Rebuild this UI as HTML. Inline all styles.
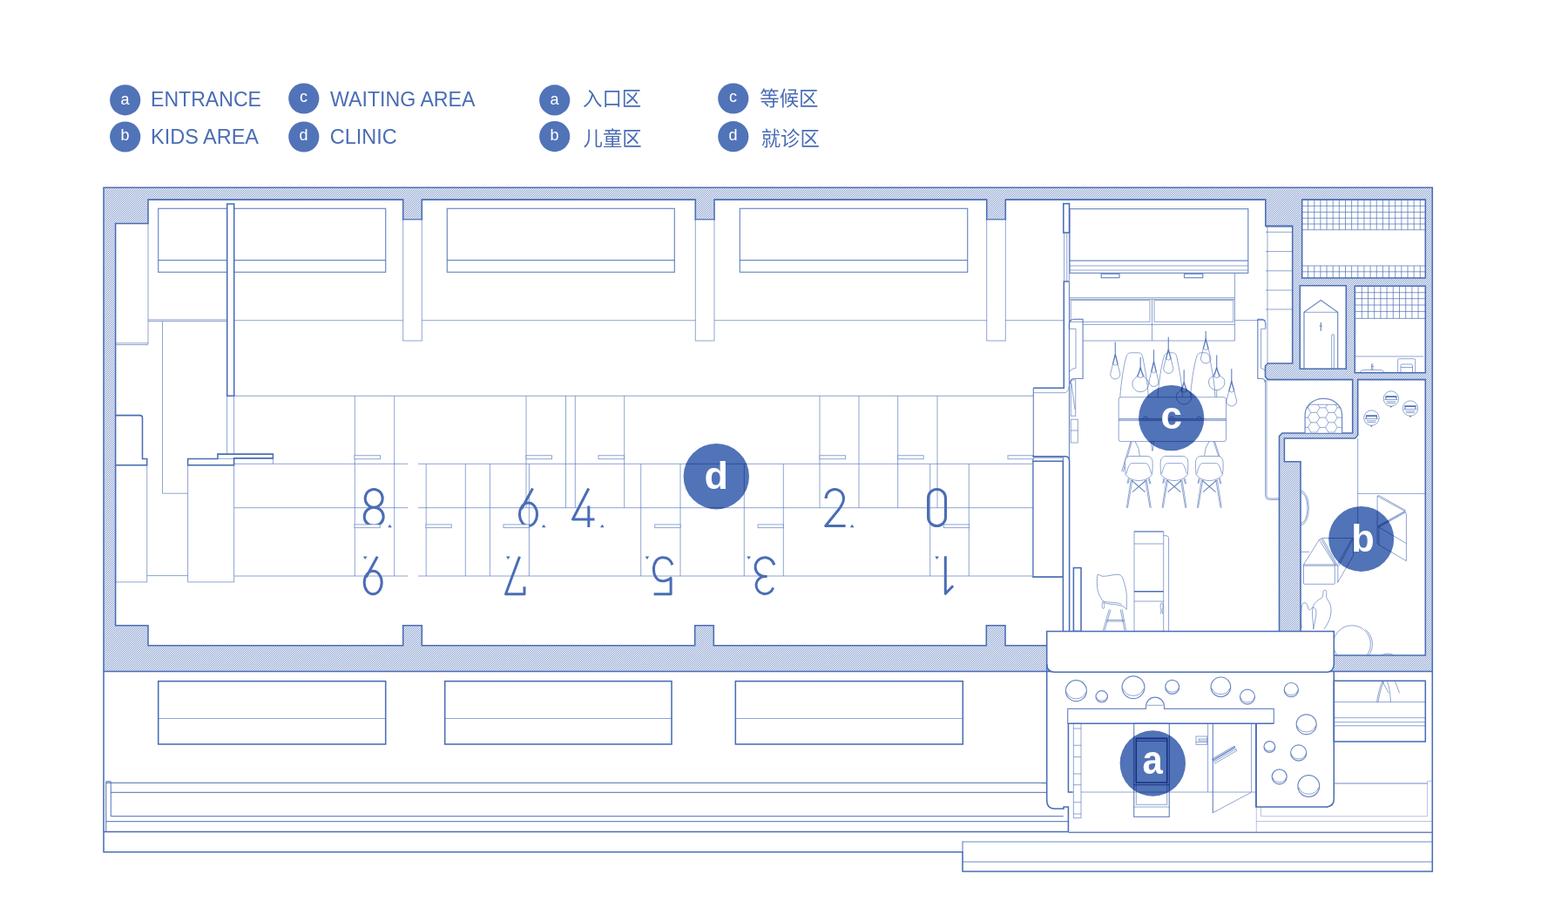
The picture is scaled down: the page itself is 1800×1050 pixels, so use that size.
<!DOCTYPE html>
<html lang="en"><head><meta charset="utf-8"><title>Clinic floor plan</title>
<style>
html,body{margin:0;padding:0;background:#fff}
body{width:1800px;height:1050px;overflow:hidden;font-family:"Liberation Sans",sans-serif}
svg{display:block}
svg{fill:none;stroke:#4a6db5;stroke-linecap:butt;stroke-linejoin:miter}
.k{stroke-width:1.55}
.m{stroke-width:1.2;stroke-opacity:.8}
.t{stroke-width:1;stroke-opacity:.62}
.g{stroke-width:1;stroke-opacity:.7}
.l{stroke-width:1;stroke-opacity:.4}
.n{stroke-width:1.5;stroke-opacity:.82}
.dg{stroke-width:3;stroke-linejoin:round}
.tf{fill:#4a6db5;stroke:none}
text{font-family:"Liberation Sans",sans-serif;stroke:none}
.bl{fill:#fff;font-weight:bold;text-anchor:middle}
.ll{fill:#fff;font-size:18px;text-anchor:middle}
.lt{fill:#4a6db5;font-size:24.2px}
.cj{fill:#4a6db5;font-size:22.4px;font-family:"Liberation Sans","Noto Sans CJK SC",sans-serif}
</style></head>
<body>
<svg width="1800" height="1050" viewBox="0 0 1800 1050">
<defs><pattern id="hatch" width="5" height="5" patternUnits="userSpaceOnUse"><g fill="#4a6db5" stroke="none" shape-rendering="crispEdges"><rect x="0" y="0" width="1" height="1" fill-opacity="0.36"/><rect x="1" y="0" width="1" height="1" fill-opacity="0.12"/><rect x="2" y="0" width="1" height="1" fill-opacity="0.63"/><rect x="3" y="0" width="1" height="1" fill-opacity="0.07"/><rect x="4" y="0" width="1" height="1" fill-opacity="0.46"/><rect x="0" y="1" width="1" height="1" fill-opacity="0.12"/><rect x="1" y="1" width="1" height="1" fill-opacity="0.63"/><rect x="2" y="1" width="1" height="1" fill-opacity="0.07"/><rect x="3" y="1" width="1" height="1" fill-opacity="0.46"/><rect x="4" y="1" width="1" height="1" fill-opacity="0.36"/><rect x="0" y="2" width="1" height="1" fill-opacity="0.63"/><rect x="1" y="2" width="1" height="1" fill-opacity="0.07"/><rect x="2" y="2" width="1" height="1" fill-opacity="0.46"/><rect x="3" y="2" width="1" height="1" fill-opacity="0.36"/><rect x="4" y="2" width="1" height="1" fill-opacity="0.12"/><rect x="0" y="3" width="1" height="1" fill-opacity="0.07"/><rect x="1" y="3" width="1" height="1" fill-opacity="0.46"/><rect x="2" y="3" width="1" height="1" fill-opacity="0.36"/><rect x="3" y="3" width="1" height="1" fill-opacity="0.12"/><rect x="4" y="3" width="1" height="1" fill-opacity="0.63"/><rect x="0" y="4" width="1" height="1" fill-opacity="0.46"/><rect x="1" y="4" width="1" height="1" fill-opacity="0.36"/><rect x="2" y="4" width="1" height="1" fill-opacity="0.12"/><rect x="3" y="4" width="1" height="1" fill-opacity="0.63"/><rect x="4" y="4" width="1" height="1" fill-opacity="0.07"/></g></pattern></defs>
<rect x="0" y="0" width="1800" height="1050" style="fill:#fff;stroke:none"/>
<path d="M119,215.3L1644.3,215.3L1644.3,770.5L119,770.5Z M170,229.1L462.7,229.1L462.7,252.1L484.3,252.1L484.3,229.1L798.3,229.1L798.3,252.1L820.0,252.1L820.0,229.1L1132.7,229.1L1132.7,252.1L1154.3,252.1L1154.3,229.1L1452.8,229.1L1452.8,259.3L1483.7,259.3L1483.7,417L1455.5,417L1452.5,420L1452.5,432.5L1455.5,435.6L1552.7,435.6L1552.7,497L1472,497L1468.5,500.5L1468.5,740.7L1154.0,740.7L1154.0,717.7L1132.3,717.7L1132.3,740.7L819.3,740.7L819.3,717.7L797.7,717.7L797.7,740.7L484.3,740.7L484.3,717.7L462.7,717.7L462.7,740.7L170,740.7L170,717.7L132.6,717.7L132.6,256.4L170,256.4Z M1558.7,435.6L1636.3,435.6L1636.3,752L1493,752L1493,529.7L1474.4,529.7L1474.4,503L1555.5,503L1558.7,499.5Z M1494.7,229.1L1636.3,229.1L1636.3,319L1494.7,319Z M1492.3,327.7L1545.3,327.7L1545.3,423.3L1492.3,423.3Z M1555.3,328.3L1636.3,328.3L1636.3,427.7L1555.3,427.7Z" fill="url(#hatch)" fill-rule="evenodd" stroke="none"/>
<path class="k" d="M119,215.3L1644.3,215.3L1644.3,770.5L119,770.5Z M170,229.1L462.7,229.1L462.7,252.1L484.3,252.1L484.3,229.1L798.3,229.1L798.3,252.1L820.0,252.1L820.0,229.1L1132.7,229.1L1132.7,252.1L1154.3,252.1L1154.3,229.1L1452.8,229.1L1452.8,259.3L1483.7,259.3L1483.7,417L1455.5,417L1452.5,420L1452.5,432.5L1455.5,435.6L1552.7,435.6L1552.7,497L1472,497L1468.5,500.5L1468.5,740.7L1154.0,740.7L1154.0,717.7L1132.3,717.7L1132.3,740.7L819.3,740.7L819.3,717.7L797.7,717.7L797.7,740.7L484.3,740.7L484.3,717.7L462.7,717.7L462.7,740.7L170,740.7L170,717.7L132.6,717.7L132.6,256.4L170,256.4Z M1558.7,435.6L1636.3,435.6L1636.3,752L1493,752L1493,529.7L1474.4,529.7L1474.4,503L1555.5,503L1558.7,499.5Z M1494.7,229.1L1636.3,229.1L1636.3,319L1494.7,319Z M1492.3,327.7L1545.3,327.7L1545.3,423.3L1492.3,423.3Z M1555.3,328.3L1636.3,328.3L1636.3,427.7L1555.3,427.7Z"/>
<rect class="m" x="181.7" y="239.3" width="261.0" height="73.0"/>
<path class="m" d="M181.7,298.7H442.7"/>
<rect class="m" x="513.3" y="239.3" width="261.0" height="73.0"/>
<path class="m" d="M513.3,298.7H774.3"/>
<rect class="m" x="849.3" y="239.3" width="261.4" height="73.0"/>
<path class="m" d="M849.3,298.7H1110.7"/>
<path class="t" d="M170,366.9H260.7"/>
<path class="t" d="M170,368.6H260.7"/>
<path class="t" d="M268.7,367.7H1220.8"/>
<rect class="t" x="462.7" y="252.1" width="21.6" height="138.9" fill="#fff"/>
<rect class="t" x="798.3" y="252.1" width="21.7" height="138.9" fill="#fff"/>
<rect class="t" x="1132.7" y="252.1" width="21.6" height="138.9" fill="#fff"/>
<path class="t" d="M170,256.4V395"/>
<path class="t" d="M132.6,393.8H170"/>
<path class="t" d="M132.6,395.6H170"/>
<path class="t" d="M186.5,368.6V566.2"/>
<path class="t" d="M186.5,566.2H215.6"/>
<rect class="k" x="260.7" y="234" width="8.0" height="220.3" fill="#fff"/>
<path class="t" d="M260.6,454.3V521"/>
<path class="t" d="M268.6,454.3V533"/>
<path class="t" d="M268.7,454.3H1186.7"/>
<path class="t" d="M407.3,454.3V661"/>
<path class="t" d="M452.7,454.3V661"/>
<path class="t" d="M604,454.3V582.7"/>
<path class="t" d="M649.5,454.3V582.7"/>
<path class="t" d="M660.3,454.3V582.7"/>
<path class="t" d="M716.7,454.3V582.7"/>
<path class="t" d="M941,454.3V582.7"/>
<path class="t" d="M986,454.3V582.7"/>
<path class="t" d="M1030.7,454.3V582.7"/>
<path class="t" d="M1076,454.3V582.7"/>
<path class="t" d="M489.2,532.3V661"/>
<path class="t" d="M534.3,532.3V661"/>
<path class="t" d="M562.4,532.3V661"/>
<path class="t" d="M607.4,532.3V661"/>
<path class="t" d="M735.7,532.3V661"/>
<path class="t" d="M781,532.3V661"/>
<path class="t" d="M854.3,532.3V661"/>
<path class="t" d="M899.3,532.3V661"/>
<path class="t" d="M1067.7,532.3V661"/>
<path class="t" d="M1112.3,532.3V661"/>
<path class="t" d="M268.6,532.3H468.3"/>
<path class="t" d="M480,532.3H1185.7"/>
<path class="t" d="M268.6,582.7H468.3"/>
<path class="t" d="M480,582.7H1185.7"/>
<path class="t" d="M268.6,661H468.3"/>
<path class="t" d="M480,661H1185.7"/>
<path class="k" d="M132.6,476.6H160.5Q163.5,476.6 163.5,479.6V526.4H168.7V533.7H132.6"/>
<rect class="t" x="132.6" y="533.7" width="36.1" height="134.2"/>
<path class="t" d="M168.7,660.6H215.6"/>
<rect class="t" x="215.6" y="533.7" width="53.0" height="134.2"/>
<path class="k" d="M215.6,526.4H249.9V521.1H313.4V525.7H268.6V533.7H215.6Z" fill="#fff"/>
<path class="t" d="M251,526.3H313.4"/>
<path class="t" d="M313.4,525.7V532.3"/>
<rect class="m" x="1185.7" y="525" width="34.7" height="137.3"/>
<path class="dg" transform="translate(418.20 561.50)" d="M11,0 A10,10.4 0 1 1 11,20.8 A10,10.4 0 1 1 11,0 Z M11,20.8 A11,10.6 0 1 1 11,42 A11,10.6 0 1 1 11,20.8 Z"/>
<path class="dg" transform="translate(596.50 561.50)" d="M15,-1 L2.2,22.5 M0,28.7 A10,13.3 0 1 1 20,28.7 A10,13.3 0 1 1 0,28.7 Z"/>
<path class="dg" transform="translate(657.50 561.50)" d="M18.3,-1 L0,34.5 H25 M18.3,19 V43.5"/>
<path class="dg" transform="translate(947.10 561.50)" d="M1,10.5 A10.2,10.5 0 0 1 21.4,10.5 C21.4,15.5 19,19 15.5,23.5 L0.6,42 H23.5"/>
<path class="dg" transform="translate(1065.50 561.50)" d="M0,10 A10,10 0 0 1 20,10 V32 A10,10 0 0 1 0,32 Z"/>
<path class="tf" d="M445.2,605.3L447.5,601.6999999999999L449.8,605.3Z"/>
<path class="tf" d="M621.9000000000001,605.3L624.2,601.6999999999999L626.5,605.3Z"/>
<path class="tf" d="M689.0,605.3L691.3,601.6999999999999L693.5999999999999,605.3Z"/>
<path class="tf" d="M975.9000000000001,605.3L978.2,601.6999999999999L980.5,605.3Z"/>
<path class="dg" transform="translate(418.20 639.80)" d="M15,-1 L2.2,22.5 M0,28.7 A10,13.3 0 1 1 20,28.7 A10,13.3 0 1 1 0,28.7 Z"/>
<g transform="rotate(180 591.25 660.80)"><path class="dg" transform="translate(580.50 639.80)" d="M0,8.5 V0 H21.5 L5.5,43"/></g>
<g transform="rotate(180 761.25 660.80)"><path class="dg" transform="translate(750.40 639.80)" d="M21.5,0 H2 V18.5 C4.5,16 8,15 11.3,15 C17.8,15 21.7,21 21.7,28.5 C21.7,36 17.8,42 11.2,42 C6,42 2,39 0.3,33.5"/></g>
<g transform="rotate(180 878.10 660.80)"><path class="dg" transform="translate(867.10 639.80)" d="M1.5,7.5 A10,10 0 1 1 11,20.3 H8.5 M11,20.3 A11,10.85 0 1 1 0.3,33.5"/></g>
<g transform="rotate(180 1089.70 660.80)"><path class="dg" transform="translate(1085.30 639.80)" d="M0,9.5 L8.8,0.5 V43.5"/></g>
<path class="tf" d="M416.9,638.4L419.2,642.0L421.5,638.4Z"/>
<path class="tf" d="M581.0,638.4L583.3,642.0L585.5999999999999,638.4Z"/>
<path class="tf" d="M740.6,638.4L742.9,642.0L745.1999999999999,638.4Z"/>
<path class="tf" d="M857.3000000000001,638.4L859.6,642.0L861.9,638.4Z"/>
<path class="tf" d="M1073.3,638.4L1075.6,642.0L1077.8999999999999,638.4Z"/>
<rect class="t" x="407" y="522.7" width="29.5" height="4.0" fill="#fff"/>
<rect class="t" x="604" y="522.7" width="29.5" height="4.0" fill="#fff"/>
<rect class="t" x="687" y="522.7" width="29.5" height="4.0" fill="#fff"/>
<rect class="t" x="941" y="522.7" width="29.5" height="4.0" fill="#fff"/>
<rect class="t" x="1030.7" y="522.7" width="29.5" height="4.0" fill="#fff"/>
<rect class="t" x="1157" y="522.7" width="29.5" height="4.0" fill="#fff"/>
<rect class="t" x="407" y="601.9" width="29.3" height="3.7" fill="#fff"/>
<rect class="t" x="489" y="601.9" width="29.3" height="3.7" fill="#fff"/>
<rect class="t" x="578" y="601.9" width="29.3" height="3.7" fill="#fff"/>
<rect class="t" x="751.7" y="601.9" width="29.3" height="3.7" fill="#fff"/>
<rect class="t" x="870" y="601.9" width="29.3" height="3.7" fill="#fff"/>
<rect class="t" x="1083.3" y="601.9" width="29.3" height="3.7" fill="#fff"/>
<rect class="k" x="1220.8" y="233.7" width="6.7" height="33.3" fill="#fff"/>
<path class="t" d="M1221.6,267V322.5"/>
<path class="t" d="M1224.8,267V322.5"/>
<path class="t" d="M1227.4,267V322.5"/>
<path class="k" d="M1227.3,322.9H1221.3V445.3H1186.3"/>
<path class="m" d="M1227.5,322.9V526"/>
<path class="t" d="M1227,443.5Q1227,450.7 1221,450.7H1186.3"/>
<path class="m" d="M1186.3,445.3V524"/>
<path class="k" d="M1185.3,523.8H1222.5Q1227.6,523.8 1227.6,529V724.4"/>
<path class="k" d="M1185.3,529.2H1220.4V724.4"/>
<path class="k" d="M1185.6,662H1220.4"/>
<path class="t" d="M1186.2,529.2V662"/>
<rect class="k" x="1232.4" y="651.6" width="8.6" height="72.8"/>
<rect class="t" x="1229.3" y="436" width="5.4" height="41.3"/>
<path class="t" d="M1230,440L1234,470"/>
<rect class="t" x="1229.3" y="481.3" width="8.0" height="26.7"/>
<path class="t" d="M1229.3,494H1237.3"/>
<rect class="m" x="1228" y="239.7" width="204.8" height="73.6"/>
<path class="m" d="M1228,299.2H1432.8"/>
<path class="t" d="M1228,305H1432.8"/>
<path class="t" d="M1228,310H1432.8"/>
<rect class="m" x="1264.2" y="314.3" width="20.8" height="4.4"/>
<rect class="m" x="1359.5" y="314.3" width="21.3" height="4.4"/>
<path class="t" d="M1417.5,313.3V391"/>
<path class="t" d="M1228,341.7H1417.5"/>
<path class="t" d="M1228,343.4H1417.5"/>
<rect class="t" x="1229.2" y="344.6" width="90.8" height="24.7"/>
<rect class="t" x="1325" y="344.6" width="90.8" height="24.7"/>
<path class="t" d="M1322.5,343.4V391"/>
<path class="t" d="M1417.5,367.6H1452.8"/>
<path class="t" d="M1243.1,372.4H1417.5"/>
<path class="t" d="M1243.1,391H1417.5"/>
<path class="m" d="M1227.4,377.4V372Q1227.6,366.3 1233,366.3H1243.1V434.5H1233Q1228.6,434.8 1228.4,440.5"/>
<path class="t" d="M1227.4,377.4H1235V422.6Q1229,423 1227.6,427"/>
<path class="m" d="M1452.8,377.4V372Q1452.6,366.3 1448.5,366.3H1443.8V434.5H1448.5Q1452,434.8 1452.4,439"/>
<path class="t" d="M1452.6,377.4H1447.6V422.6Q1451,423 1452.4,426"/>
<path class="t" d="M1469,573.4H1457.5Q1452.6,573.4 1452.6,568.5V435.6"/>
<path class="t" d="M1469,572H1457.5Q1454,572 1454,568.5V436"/>
<path class="t" d="M1455,259.4V417"/>
<path class="t" d="M1453,266.3H1483.7"/>
<path class="t" d="M1453,288.6H1483.7"/>
<path class="t" d="M1453,310.8H1483.7"/>
<path class="t" d="M1453,333H1483.7"/>
<path class="t" d="M1453,355H1483.7"/>
<path class="t" d="M1453,260.6H1483.7"/>
<path class="t" d="M1285.8,455.8C1286.8,440 1289.8,420 1292.8,410C1293.8,406 1295.8,404.8 1298.8,404.8H1306.3C1309.3,404.8 1310.8,406 1311.8,410C1314.8,425 1317.8,440 1318.3,455.8"/>
<path class="t" d="M1329,455.8C1330,440 1333,420 1336,410C1337,406 1339,404.8 1342,404.8H1345.5C1348.5,404.8 1350.0,406 1351.0,410C1354.0,425 1357.0,440 1357.5,455.8"/>
<path class="t" d="M1366.5,455.8C1367.5,440 1370.5,420 1373.5,410C1374.5,406 1376.5,404.8 1379.5,404.8H1383.0C1386.0,404.8 1387.5,406 1388.5,410C1391.5,425 1394.5,440 1395.0,455.8"/>
<rect class="t" x="1284.2" y="455.8" width="123.3" height="50.8" fill="#fff" rx="2.5"/>
<path class="m" d="M1284.2,480.8H1407.5"/>
<path class="t" d="M1284.2,482.6H1407.5"/>
<path class="t" d="M1312.4,480.8A2.6,2.6 0 0 1 1317.6,480.8"/>
<path class="t" d="M1342.4,480.8A2.6,2.6 0 0 1 1347.6,480.8"/>
<path class="t" d="M1374.1000000000001,480.8A2.6,2.6 0 0 1 1379.3,480.8"/>
<path class="m" d="M1280.3,392.5V406.7"/>
<path class="m" d="M1309.2,410V421.7"/>
<path class="m" d="M1324.5,401.3V415"/>
<path class="m" d="M1341.3,386.7V400.8"/>
<path class="m" d="M1359.2,424.2V438.3"/>
<path class="m" d="M1384.2,380V389.2"/>
<path class="m" d="M1396.7,407.5V421.7"/>
<path class="m" d="M1413.8,423.3V437.5"/>
<path class="t" d="M1280.3,406.7Q1275.8,424.4 1274.7,429.4A5.6,5.6 0 0 0 1285.8999999999999,429.4Q1284.8,424.4 1280.3,406.7Z"/>
<path class="t" d="M1277.5,418.0Q1280.3,420.6 1283.1,418.0"/>
<path class="m" d="M1277.5,418.0L1280.3,406.7L1283.1,418.0"/>
<path class="t" d="M1324.5,415Q1320.1,432.9 1319.0,438.0A5.5,5.5 0 0 0 1330.0,438.0Q1328.9,432.9 1324.5,415Z"/>
<path class="t" d="M1321.8,426.5Q1324.5,429.1 1327.2,426.5"/>
<path class="m" d="M1321.8,426.5L1324.5,415L1327.2,426.5"/>
<path class="t" d="M1341.3,400.8Q1336.8,418.0 1335.7,422.9A5.6,5.6 0 0 0 1346.8999999999999,422.9Q1345.8,418.0 1341.3,400.8Z"/>
<path class="t" d="M1338.5,411.9Q1341.3,414.5 1344.1,411.9"/>
<path class="m" d="M1338.5,411.9L1341.3,400.8L1344.1,411.9"/>
<path class="t" d="M1384.2,389.2Q1379.6,406.4 1378.4,411.2A5.8,5.8 0 0 0 1390.0,411.2Q1388.8,406.4 1384.2,389.2Z"/>
<path class="t" d="M1381.3,400.2Q1384.2,402.8 1387.1,400.2"/>
<path class="m" d="M1381.3,400.2L1384.2,389.2L1387.1,400.2"/>
<path class="t" d="M1413.8,437.5Q1409.1,455.1 1407.8999999999999,460.1A5.9,5.9 0 0 0 1419.7,460.1Q1418.5,455.1 1413.8,437.5Z"/>
<path class="t" d="M1410.8,448.8Q1413.8,451.4 1416.8,448.8"/>
<path class="m" d="M1410.8,448.8L1413.8,437.5L1416.8,448.8"/>
<path class="t" d="M1309.2,421.7Q1306.2,432.7 1300.8,436.4A9.3,9.3 0 1 0 1317.6,436.4Q1312.2,432.7 1309.2,421.7Z"/>
<path class="t" d="M1305.8,432.2Q1309.2,434.8 1312.6000000000001,432.2"/>
<path class="m" d="M1305.9,432.2Q1308.2,426.7 1309.2,421.7Q1310.2,426.7 1312.5,432.2"/>
<path class="t" d="M1359.2,438.3Q1356.2,449.3 1351.2,451.1A8.9,8.9 0 1 0 1367.2,451.1Q1362.2,449.3 1359.2,438.3Z"/>
<path class="t" d="M1355.8,448.8Q1359.2,451.4 1362.6000000000001,448.8"/>
<path class="m" d="M1355.9,448.8Q1358.2,443.3 1359.2,438.3Q1360.2,443.3 1362.5,448.8"/>
<path class="t" d="M1396.7,421.7Q1393.7,432.7 1388.4,434.5A9.2,9.2 0 1 0 1405.0,434.5Q1399.7,432.7 1396.7,421.7Z"/>
<path class="t" d="M1393.3,432.2Q1396.7,434.8 1400.1000000000001,432.2"/>
<path class="m" d="M1393.4,432.2Q1395.7,426.7 1396.7,421.7Q1397.7,426.7 1400.0,432.2"/>
<path class="t" d="M1396.7,447.6V455.8"/>
<path class="t" d="M1298,506.6L1287.7,541M1299.2,506.6L1289.3,541.5M1303,506.6Q1308.2,514 1308.3,523"/>
<path class="t" d="M1393.2,506.6L1399.2,525M1394.4,506.6L1400.4,524.6M1388,506.6Q1382.8,514 1382.6,523"/>
<path class="t" d="M1321.5,506.6L1322.6,517.5M1324.3,506.6L1323.2,517.5"/>
<g transform="translate(1307.3 523.3)"><path class="t" fill="#fff" d="M-15.2,21.3C-16,14 -16,8 -15.6,5.8C-15,1.5 -12,0.2 -10,0.2H10C12,0.2 15,1.5 15.6,5.8C16,8 16,14 15.2,21.3C12,26 6,28.2 0,28.2C-6,28.2 -12,26 -15.2,21.3Z"/><path class="t" d="M-14.3,20.3C-13,15 -11.5,11 -10.2,9.5C-9.5,8.6 -8.5,8.4 -7.5,8.4H7.5C8.5,8.4 9.5,8.6 10.2,9.5C11.5,11 13,15 14.3,20.3"/><path class="t" d="M-9,27.3L-14,59.5M-7.5,27.6L-12.8,59.5M9,27.3L14,59.5M7.5,27.6L12.8,59.5M-12,25.5L-13.3,31.5M-11,26L-12.2,31.5M12,25.5L13.7,32M11,26L12.6,32"/><path class="m" d="M-8.2,28L7.3,41.3M8.2,28L-7.3,41.3"/></g>
<g transform="translate(1348 523.3)"><path class="t" fill="#fff" d="M-15.2,21.3C-16,14 -16,8 -15.6,5.8C-15,1.5 -12,0.2 -10,0.2H10C12,0.2 15,1.5 15.6,5.8C16,8 16,14 15.2,21.3C12,26 6,28.2 0,28.2C-6,28.2 -12,26 -15.2,21.3Z"/><path class="t" d="M-14.3,20.3C-13,15 -11.5,11 -10.2,9.5C-9.5,8.6 -8.5,8.4 -7.5,8.4H7.5C8.5,8.4 9.5,8.6 10.2,9.5C11.5,11 13,15 14.3,20.3"/><path class="t" d="M-9,27.3L-14,59.5M-7.5,27.6L-12.8,59.5M9,27.3L14,59.5M7.5,27.6L12.8,59.5M-12,25.5L-13.3,31.5M-11,26L-12.2,31.5M12,25.5L13.7,32M11,26L12.6,32"/><path class="m" d="M-8.2,28L7.3,41.3M8.2,28L-7.3,41.3"/></g>
<g transform="translate(1388.3 523.3)"><path class="t" fill="#fff" d="M-15.2,21.3C-16,14 -16,8 -15.6,5.8C-15,1.5 -12,0.2 -10,0.2H10C12,0.2 15,1.5 15.6,5.8C16,8 16,14 15.2,21.3C12,26 6,28.2 0,28.2C-6,28.2 -12,26 -15.2,21.3Z"/><path class="t" d="M-14.3,20.3C-13,15 -11.5,11 -10.2,9.5C-9.5,8.6 -8.5,8.4 -7.5,8.4H7.5C8.5,8.4 9.5,8.6 10.2,9.5C11.5,11 13,15 14.3,20.3"/><path class="t" d="M-9,27.3L-14,59.5M-7.5,27.6L-12.8,59.5M9,27.3L14,59.5M7.5,27.6L12.8,59.5M-12,25.5L-13.3,31.5M-11,26L-12.2,31.5M12,25.5L13.7,32M11,26L12.6,32"/><path class="m" d="M-8.2,28L7.3,41.3M8.2,28L-7.3,41.3"/></g>
<rect class="t" x="1302" y="610" width="33.7" height="114.4"/>
<path class="m" d="M1302,610H1335.7"/>
<path class="t" d="M1302,624H1335.7"/>
<path class="k" d="M1302,678.7H1335.7"/>
<path class="t" d="M1302,690H1335.7"/>
<path class="t" d="M1335.7,614.7H1338.6Q1341.6,614.7 1341.6,617.7V724.4"/>
<path class="t" d="M1333.6,691.5C1331.8,692.5 1331.6,698 1333,699.5L1332.6,704.5M1333.6,691.5C1335.4,692.5 1335.6,698 1334.2,699.5L1334.6,704.5"/>
<path class="t" d="M1260,659.3C1262,659 1263.5,661.3 1266,661.3C1272,661.5 1278,659 1284,659.3C1287,659.5 1288.5,662 1289.3,664.7C1291,671 1293.3,677 1293.3,683.3V699.3C1291.5,697 1290,696 1288,695.3C1282,693.5 1276,693.5 1270.7,692.7C1268,692 1266.5,690.5 1265.3,688.7C1262.5,684.5 1260.5,680.5 1260,676.7C1259,671 1259,664 1260,659.3Z"/>
<path class="t" d="M1266.5,690C1273,692 1283,690.5 1287.5,693.5M1273.3,699.3L1266.3,723.6M1275,699.5L1268,723.6M1288,699.3L1292.7,723.6M1286.3,699.5L1291,723.6M1270.7,711.5H1290.4M1270.2,713H1290.7M1266,690.5C1264.5,694 1265,698 1266.5,698.5C1268,698 1268,694 1266.8,691"/>
<path class="g" d="M1501.6,229.1V263.7M1501.6,305V319M1508.75,229.1V263.7M1508.75,305V319M1515.9,229.1V263.7M1515.9,305V319M1523.05,229.1V263.7M1523.05,305V319M1530.2,229.1V263.7M1530.2,305V319M1537.35,229.1V263.7M1537.35,305V319M1544.5,229.1V263.7M1544.5,305V319M1551.65,229.1V263.7M1551.65,305V319M1558.8,229.1V263.7M1558.8,305V319M1565.95,229.1V263.7M1565.95,305V319M1573.1,229.1V263.7M1573.1,305V319M1580.25,229.1V263.7M1580.25,305V319M1587.4,229.1V263.7M1587.4,305V319M1594.55,229.1V263.7M1594.55,305V319M1601.7,229.1V263.7M1601.7,305V319M1608.85,229.1V263.7M1608.85,305V319M1616.0,229.1V263.7M1616.0,305V319M1623.15,229.1V263.7M1623.15,305V319M1630.3,229.1V263.7M1630.3,305V319M1494.7,236.3H1636.3M1494.7,243.4H1636.3M1494.7,250.3H1636.3M1494.7,257H1636.3M1494.7,263.7H1636.3M1494.7,305H1636.3M1494.7,311.8H1636.3"/>
<path class="g" d="M1563.3,328.3V365.4M1570.5,328.3V365.4M1577.7,328.3V365.4M1584.9,328.3V365.4M1592.1,328.3V365.4M1599.3,328.3V365.4M1606.5,328.3V365.4M1613.7,328.3V365.4M1620.9,328.3V365.4M1628.1,328.3V365.4M1555.3,335.7H1636.3M1555.3,342.7H1636.3M1555.3,350H1636.3M1555.3,357.4H1636.3M1555.3,365.4H1636.3"/>
<path class="t" d="M1556,409H1634"/>
<rect class="t" x="1604.7" y="411.7" width="20.0" height="16.0" rx="1.5"/>
<path class="t" d="M1608,427.7V419.5Q1608,418 1609.5,418H1620Q1621.5,418 1621.5,419.5V427.7M1608,421.5H1621.5"/>
<path class="t" d="M1560.7,427.5Q1562,424.6 1566,424.6H1584Q1588,424.6 1589.3,427.5M1574.6,424.6V417.3M1575.8,424.6V417.3M1574.6,420.5H1577"/>
<path class="m" d="M1497,423.3V358.3L1516.3,344.6L1535.7,358.3V423.3"/>
<path class="t" d="M1497,358.3H1535.7"/>
<path class="m" d="M1516.3,370V379.8M1514.6,374H1518"/>
<path class="t" d="M1528.7,423.3V385Q1528.7,383.6 1530,383.6Q1531.4,383.6 1531.4,385V423.3"/>
<clipPath id="dome"><path d="M1498.1,496.5V476Q1498.1,464.3 1503.7,464.3H1534.6Q1540.6,464.3 1540.6,476V496.5Z"/></clipPath>
<path class="m" d="M1498.1,496.8V476C1498.1,465.5 1507.5,457.3 1519.3,457.3C1531.2,457.3 1540.6,465.5 1540.6,476V496.8" fill="#fff"/>
<path class="t" d="M1503.3,464.3H1535.2"/>
<path d="M1481.2,456.5L1484.6,450.9L1491.4,450.9L1494.8,456.5L1491.4,462.2L1484.6,462.2ZM1481.2,467.8L1484.6,462.2L1491.4,462.2L1494.8,467.8L1491.4,473.5L1484.6,473.5ZM1481.2,479.1L1484.6,473.5L1491.4,473.5L1494.8,479.1L1491.4,484.8L1484.6,484.8ZM1481.2,490.4L1484.6,484.8L1491.4,484.8L1494.8,490.4L1491.4,496.1L1484.6,496.1ZM1481.2,501.8L1484.6,496.1L1491.4,496.1L1494.8,501.8L1491.4,507.4L1484.6,507.4ZM1481.2,513.0L1484.6,507.4L1491.4,507.4L1494.8,513.0L1491.4,518.7L1484.6,518.7ZM1491.3,450.9L1494.7,445.2L1501.5,445.2L1504.8,450.9L1501.5,456.5L1494.7,456.5ZM1491.3,462.2L1494.7,456.6L1501.5,456.6L1504.8,462.2L1501.5,467.8L1494.7,467.8ZM1491.3,473.5L1494.7,467.9L1501.5,467.9L1504.8,473.5L1501.5,479.1L1494.7,479.1ZM1491.3,484.8L1494.7,479.2L1501.5,479.2L1504.8,484.8L1501.5,490.4L1494.7,490.4ZM1491.3,496.1L1494.7,490.5L1501.5,490.5L1504.8,496.1L1501.5,501.8L1494.7,501.8ZM1491.3,507.4L1494.7,501.8L1501.5,501.8L1504.8,507.4L1501.5,513.0L1494.7,513.0ZM1501.5,456.5L1504.8,450.9L1511.6,450.9L1515.0,456.5L1511.6,462.2L1504.8,462.2ZM1501.5,467.8L1504.8,462.2L1511.6,462.2L1515.0,467.8L1511.6,473.5L1504.8,473.5ZM1501.5,479.1L1504.8,473.5L1511.6,473.5L1515.0,479.1L1511.6,484.8L1504.8,484.8ZM1501.5,490.4L1504.8,484.8L1511.6,484.8L1515.0,490.4L1511.6,496.1L1504.8,496.1ZM1501.5,501.8L1504.8,496.1L1511.6,496.1L1515.0,501.8L1511.6,507.4L1504.8,507.4ZM1501.5,513.0L1504.8,507.4L1511.6,507.4L1515.0,513.0L1511.6,518.7L1504.8,518.7ZM1511.5,450.9L1514.9,445.2L1521.7,445.2L1525.0,450.9L1521.7,456.5L1514.9,456.5ZM1511.5,462.2L1514.9,456.6L1521.7,456.6L1525.0,462.2L1521.7,467.8L1514.9,467.8ZM1511.5,473.5L1514.9,467.9L1521.7,467.9L1525.0,473.5L1521.7,479.1L1514.9,479.1ZM1511.5,484.8L1514.9,479.2L1521.7,479.2L1525.0,484.8L1521.7,490.4L1514.9,490.4ZM1511.5,496.1L1514.9,490.5L1521.7,490.5L1525.0,496.1L1521.7,501.8L1514.9,501.8ZM1511.5,507.4L1514.9,501.8L1521.7,501.8L1525.0,507.4L1521.7,513.0L1514.9,513.0ZM1521.6,456.5L1525.0,450.9L1531.8,450.9L1535.1,456.5L1531.8,462.2L1525.0,462.2ZM1521.6,467.8L1525.0,462.2L1531.8,462.2L1535.1,467.8L1531.8,473.5L1525.0,473.5ZM1521.6,479.1L1525.0,473.5L1531.8,473.5L1535.1,479.1L1531.8,484.8L1525.0,484.8ZM1521.6,490.4L1525.0,484.8L1531.8,484.8L1535.1,490.4L1531.8,496.1L1525.0,496.1ZM1521.6,501.8L1525.0,496.1L1531.8,496.1L1535.1,501.8L1531.8,507.4L1525.0,507.4ZM1521.6,513.0L1525.0,507.4L1531.8,507.4L1535.1,513.0L1531.8,518.7L1525.0,518.7ZM1531.8,450.9L1535.1,445.2L1541.9,445.2L1545.2,450.9L1541.9,456.5L1535.1,456.5ZM1531.8,462.2L1535.1,456.6L1541.9,456.6L1545.2,462.2L1541.9,467.8L1535.1,467.8ZM1531.8,473.5L1535.1,467.9L1541.9,467.9L1545.2,473.5L1541.9,479.1L1535.1,479.1ZM1531.8,484.8L1535.1,479.2L1541.9,479.2L1545.2,484.8L1541.9,490.4L1535.1,490.4ZM1531.8,496.1L1535.1,490.5L1541.9,490.5L1545.2,496.1L1541.9,501.8L1535.1,501.8ZM1531.8,507.4L1535.1,501.8L1541.9,501.8L1545.2,507.4L1541.9,513.0L1535.1,513.0ZM1541.8,456.5L1545.2,450.9L1552.0,450.9L1555.3,456.5L1552.0,462.2L1545.2,462.2ZM1541.8,467.8L1545.2,462.2L1552.0,462.2L1555.3,467.8L1552.0,473.5L1545.2,473.5ZM1541.8,479.1L1545.2,473.5L1552.0,473.5L1555.3,479.1L1552.0,484.8L1545.2,484.8ZM1541.8,490.4L1545.2,484.8L1552.0,484.8L1555.3,490.4L1552.0,496.1L1545.2,496.1ZM1541.8,501.8L1545.2,496.1L1552.0,496.1L1555.3,501.8L1552.0,507.4L1545.2,507.4ZM1541.8,513.0L1545.2,507.4L1552.0,507.4L1555.3,513.0L1552.0,518.7L1545.2,518.7Z" clip-path="url(#dome)" stroke-width=".9" stroke-opacity=".36"/>
<circle class="t" cx="1596.9" cy="457.5" r="8.7"/>
<path class="m" d="M1590.9,458.3V455.1H1602.9V458.3"/>
<path class="k" d="M1590.5,455.2H1603.3000000000002"/>
<path class="t" d="M1589.4,458.5H1604.4M1591.4,460.7H1602.4M1591.9,462.5H1601.9"/>
<path class="tf" d="M1595.7,466.2L1596.9,468.1L1598.1000000000001,466.2Z"/>
<circle class="t" cx="1619" cy="468.6" r="8.7"/>
<path class="m" d="M1613,469.40000000000003V466.20000000000005H1625V469.40000000000003"/>
<path class="k" d="M1612.6,466.3H1625.4"/>
<path class="t" d="M1611.5,469.6H1626.5M1613.5,471.8H1624.5M1614,473.6H1624"/>
<path class="tf" d="M1617.8,477.3L1619,479.20000000000005L1620.2,477.3Z"/>
<circle class="t" cx="1574.4" cy="479.6" r="8.7"/>
<path class="m" d="M1568.4,480.40000000000003V477.20000000000005H1580.4V480.40000000000003"/>
<path class="k" d="M1568.0,477.3H1580.8000000000002"/>
<path class="t" d="M1566.9,480.6H1581.9M1568.9,482.8H1579.9M1569.4,484.6H1579.4"/>
<path class="tf" d="M1573.2,488.3L1574.4,490.20000000000005L1575.6000000000001,488.3Z"/>
<path class="t" d="M1558.7,503V617"/>
<path class="t" d="M1558.7,566.4H1636.3"/>
<path class="t" d="M1493,633.3H1503"/>
<path class="t" d="M1493,563A9.4,19.9 0 0 1 1493,602.8M1493,565A8,17.9 0 0 1 1493,600.8"/>
<path class="t" d="M1496.5,669.3V647.9L1514.4,619.3L1532.3,647.9V669.3Q1532.3,670.3 1531.3,670.3H1497.5Q1496.5,670.3 1496.5,669.3Z"/>
<path class="t" d="M1496.5,647.9H1532.3M1496.5,649.2H1532.3M1514.4,619.3L1518,617.5H1553.7M1518,617.5L1535.8,649.5M1516.5,618.3L1534,649M1532.3,647.9L1535.8,649.5V668L1534.6,669M1553.7,617.5L1536.8,649.5M1552.2,617.5L1535.8,647.5M1553.5,619V637.5L1535.8,668"/>
<path class="t" d="M1581.1,569.3V623.5L1582.9,625.2L1614.4,643.7V589.5L1612.6,586.5ZM1581.1,569.3L1583,568.6L1614,586M1612.6,586.5L1581.7,603.8M1613.5,588L1582.9,605M1612.9,587.2L1582.2,604.4M1582.9,605V625.2M1582.9,605L1614.4,623.6M1581.7,603.8L1582.9,605"/>
<path class="t" d="M1508,722C1507,712 1506,703 1507,697C1508,693 1512,689 1516,687C1518.5,686 1519,683 1518.8,680.5C1518.8,678 1520,677 1521,677C1522.3,677 1523,678.5 1522.8,681C1522.4,684 1522.5,686 1524,688C1527,692 1528.3,697 1528,702C1527.5,710 1524,716 1520,722"/>
<path class="t" d="M1494.3,721C1493.5,712 1493.6,700 1494.5,695.5C1495,692.5 1496.5,691.5 1498,691.7C1500,692 1501,694 1501.5,697C1502,699.5 1503.2,700.7 1504.3,699.5C1505.5,697.5 1507.5,696.5 1509,697.5C1511,699 1511.3,703 1510.5,708C1509.8,713 1508.5,717 1507.5,722"/>
<path class="t" d="M1534.65,752A21.5,21.5 0 1 1 1569.35,752"/>
<path class="t" d="M1567.5,722.5A21.5,21.5 0 0 1 1571.3,752"/>
<path class="t" d="M1586,752Q1593,748 1600,752"/>
<path class="k" d="M119,770.5V977.7H1105V1000H1644.3V770.5"/>
<rect class="k" x="181.7" y="781.7" width="261.0" height="72.3"/>
<path class="t" d="M181.7,824.5H442.7"/>
<rect class="k" x="510.7" y="781.7" width="260.3" height="72.3"/>
<path class="t" d="M510.7,824.5H771"/>
<rect class="k" x="844.3" y="781.7" width="261.0" height="72.3"/>
<path class="t" d="M844.3,824.5H1105.3"/>
<path class="m" d="M121.7,898.3H1201.7"/>
<path class="m" d="M127.3,909.3H1201.7"/>
<path class="m" d="M127.3,936.7H1220.7"/>
<path class="m" d="M121.7,942.7H1226.5"/>
<path class="k" d="M119,954.4H1226.5"/>
<path class="m" d="M121.7,954.4V897.8Q121.7,896.6 122.9,896.6H126.1Q127.3,896.6 127.3,897.8V936.7"/>
<path class="m" d="M1105,966H1644.3"/>
<path class="m" d="M1105,989H1644.3"/>
<path class="m" d="M1105,965.5V977.7"/>
<path class="m" d="M1531.3,899H1638.6"/>
<path class="l" d="M1638.6,899V896.3H1644"/>
<path class="l" d="M1638.6,899V936.7"/>
<path class="l" d="M1447.5,925.9V936.7H1638.6"/>
<path class="l" d="M1442.3,942.5H1644.3"/>
<path class="l" d="M1442.3,925.9V955"/>
<path class="n" d="M1226.5,955.2H1644.3"/>
<rect class="k" x="1531.3" y="781.3" width="105.0" height="69.7"/>
<path class="t" d="M1531.3,805.6H1636.3"/>
<path class="t" d="M1531.3,823.7H1636.3"/>
<path class="t" d="M1531.3,828.7H1636.3"/>
<path d="M1531.3,832.8H1636.3" stroke="#4a6db5" stroke-opacity=".45" stroke-width="1.6" fill="none"/>
<path class="k" d="M1531.3,771V916.6"/>
<path class="t" d="M1580.5,805.6C1582,797 1584,788 1587,782M1582,805.6C1583.5,797 1585.5,788 1588.5,782M1596.5,805.6C1596,797 1595,788 1592.5,782M1587,782L1594,795M1601.5,782L1606.5,795"/>
<path class="k" d="M1201.7,724.4H1531.3V762Q1531.3,771.3 1522,771.3H1211Q1201.7,771.3 1201.7,762Z" fill="#fff"/>
<path class="k" d="M1201.7,762V918.7Q1201.7,928 1211,928H1221V926H1226.4V954.4"/>
<path class="k" d="M1441.9,830.3V925.9H1522Q1531.3,925.9 1531.3,916.6"/>
<path class="m" d="M1225.7,830.3V813.3H1315.5V810.7A10.5,10.5 0 0 1 1336.5,810.7V813.3H1462.3V830.3"/>
<path class="t" d="M1317,809.3H1335"/>
<path class="k" d="M1225.7,830.3H1462.3"/>
<circle class="m" cx="1235.4" cy="792.7" r="12"/>
<path class="t" d="M1224.2,794.1A12,12 0 0 0 1246.6,794.1"/>
<circle class="m" cx="1264.7" cy="799.3" r="6.7"/>
<path class="t" d="M1258.5,799.9A6.7,6.7 0 0 0 1270.9,799.9"/>
<circle class="m" cx="1301" cy="788.7" r="12.9"/>
<path class="t" d="M1289.0,790.2A12.9,12.9 0 0 0 1313.0,790.2"/>
<circle class="m" cx="1345.7" cy="788.3" r="8"/>
<path class="t" d="M1338.3,789.2A8,8 0 0 0 1353.1,789.2"/>
<circle class="m" cx="1401.4" cy="788.3" r="11.3"/>
<path class="t" d="M1390.9,789.6A11.3,11.3 0 0 0 1411.9,789.6"/>
<circle class="m" cx="1432" cy="799.6" r="8.5"/>
<path class="t" d="M1424.1,800.6A8.5,8.5 0 0 0 1439.9,800.6"/>
<circle class="m" cx="1482.3" cy="791.6" r="8.1"/>
<path class="t" d="M1474.8,792.6A8.1,8.1 0 0 0 1489.8,792.6"/>
<circle class="m" cx="1499.7" cy="831.3" r="11.5"/>
<path class="t" d="M1489.0,832.7A11.5,11.5 0 0 0 1510.4,832.7"/>
<circle class="m" cx="1457.4" cy="857" r="6.4"/>
<path class="t" d="M1451.4,857.5A6.4,6.4 0 0 0 1463.4,857.5"/>
<circle class="m" cx="1490.7" cy="864" r="9.1"/>
<path class="t" d="M1482.2,865.1A9.1,9.1 0 0 0 1499.2,865.1"/>
<circle class="m" cx="1468.7" cy="891.3" r="8.5"/>
<path class="t" d="M1460.8,892.3A8.5,8.5 0 0 0 1476.6,892.3"/>
<circle class="m" cx="1502.3" cy="902" r="12.4"/>
<path class="t" d="M1490.8,903.5A12.4,12.4 0 0 0 1513.8,903.5"/>
<path class="k" d="M1226.4,830.3V909H1231.7"/>
<rect class="t" x="1232.3" y="830.3" width="8.7" height="108.4"/>
<path class="t" d="M1232.3,836H1241M1232.3,855.3H1241M1232.3,868.7H1241M1232.3,888H1241M1232.3,900.7H1241M1232.3,920.7H1241M1232.3,934H1241"/>
<path class="t" d="M1241,909H1442"/>
<path class="t" d="M1195,898.7H1201.7"/>
<rect class="m" x="1301.7" y="830.3" width="40.6" height="107.0"/>
<rect class="t" x="1304.3" y="846.7" width="35.4" height="76.6"/>
<rect class="k" x="1304.3" y="847.6" width="35.4" height="50.4"/>
<path class="m" d="M1304.3,850.4H1339.7"/>
<path class="m" d="M1301.7,900.7H1342.3"/>
<path class="t" d="M1301.7,926H1342.3"/>
<path class="t" d="M1386.6,830.3V909"/>
<path class="m" d="M1392.3,830.3V932.7"/>
<path class="t" d="M1392.3,932.7L1436.3,909.3"/>
<path class="t" d="M1436.6,830.3V909"/>
<path class="k" d="M1441.9,830.3V926"/>
<path class="t" d="M1391.7,870.7L1417,856L1418,858L1392.7,873ZM1393,874.5L1419,859.5L1419.6,861.5L1394,876.5"/>
<path class="m" d="M1392.5,872L1417.6,857.2"/>
<rect class="t" x="1373" y="845" width="12.7" height="9.4"/>
<path class="t" d="M1376,848H1385.7M1376,850H1385.7M1373,851.6H1385.7M1376,848V850"/>
<circle cx="822.3" cy="546.7" r="37.7" fill="#5173b8" stroke="none" style="mix-blend-mode:multiply"/>
<circle cx="1344.7" cy="479.7" r="37.6" fill="#5173b8" stroke="none" style="mix-blend-mode:multiply"/>
<circle cx="1562.7" cy="618.4" r="37.5" fill="#5173b8" stroke="none" style="mix-blend-mode:multiply"/>
<circle cx="1323.3" cy="876" r="37.7" fill="#5173b8" stroke="none" style="mix-blend-mode:multiply"/>
<text class="bl" transform="translate(822.20 560.8) scale(1 1)" x="0" y="0" font-size="45">d</text>
<text class="bl" transform="translate(1344.70 492.3) scale(1 1)" x="0" y="0" font-size="44">c</text>
<text class="bl" transform="translate(1564.60 633) scale(1 1)" x="0" y="0" font-size="43.5">b</text>
<text class="bl" transform="translate(1323.10 888) scale(0.89 1)" x="0" y="0" font-size="47">a</text>
<circle cx="143.7" cy="114.8" r="17.6" fill="#5173b8" stroke="none"/>
<text class="ll" x="143.5" y="120.1">a</text>
<circle cx="143.7" cy="157" r="17.6" fill="#5173b8" stroke="none"/>
<text class="ll" x="143.5" y="161.2">b</text>
<circle cx="348.8" cy="113" r="17.6" fill="#5173b8" stroke="none"/>
<text class="ll" x="348.6" y="117.4">c</text>
<circle cx="348.8" cy="157" r="17.6" fill="#5173b8" stroke="none"/>
<text class="ll" x="348.6" y="161.4">d</text>
<circle cx="636.7" cy="114.9" r="17.6" fill="#5173b8" stroke="none"/>
<text class="ll" x="636.5" y="120.2">a</text>
<circle cx="636.7" cy="156.6" r="17.6" fill="#5173b8" stroke="none"/>
<text class="ll" x="636.5" y="160.79999999999998">b</text>
<circle cx="841.8" cy="113" r="17.6" fill="#5173b8" stroke="none"/>
<text class="ll" x="841.5999999999999" y="117.4">c</text>
<circle cx="841.8" cy="156.7" r="17.6" fill="#5173b8" stroke="none"/>
<text class="ll" x="841.5999999999999" y="161.1">d</text>
<text class="lt" x="173" y="122" textLength="127" lengthAdjust="spacingAndGlyphs">ENTRANCE</text>
<text class="lt" x="173" y="164.8" textLength="124" lengthAdjust="spacingAndGlyphs">KIDS AREA</text>
<text class="lt" x="379" y="122" textLength="166.5" lengthAdjust="spacingAndGlyphs">WAITING AREA</text>
<text class="lt" x="378.8" y="165.3" textLength="77" lengthAdjust="spacingAndGlyphs">CLINIC</text>
<text class="cj" x="669" y="120.9">入口区</text>
<text class="cj" x="669.5" y="167.1">儿童区</text>
<text class="cj" x="872.3" y="120.8">等候区</text>
<text class="cj" x="873.7" y="167.1">就诊区</text>
</svg>
</body></html>
